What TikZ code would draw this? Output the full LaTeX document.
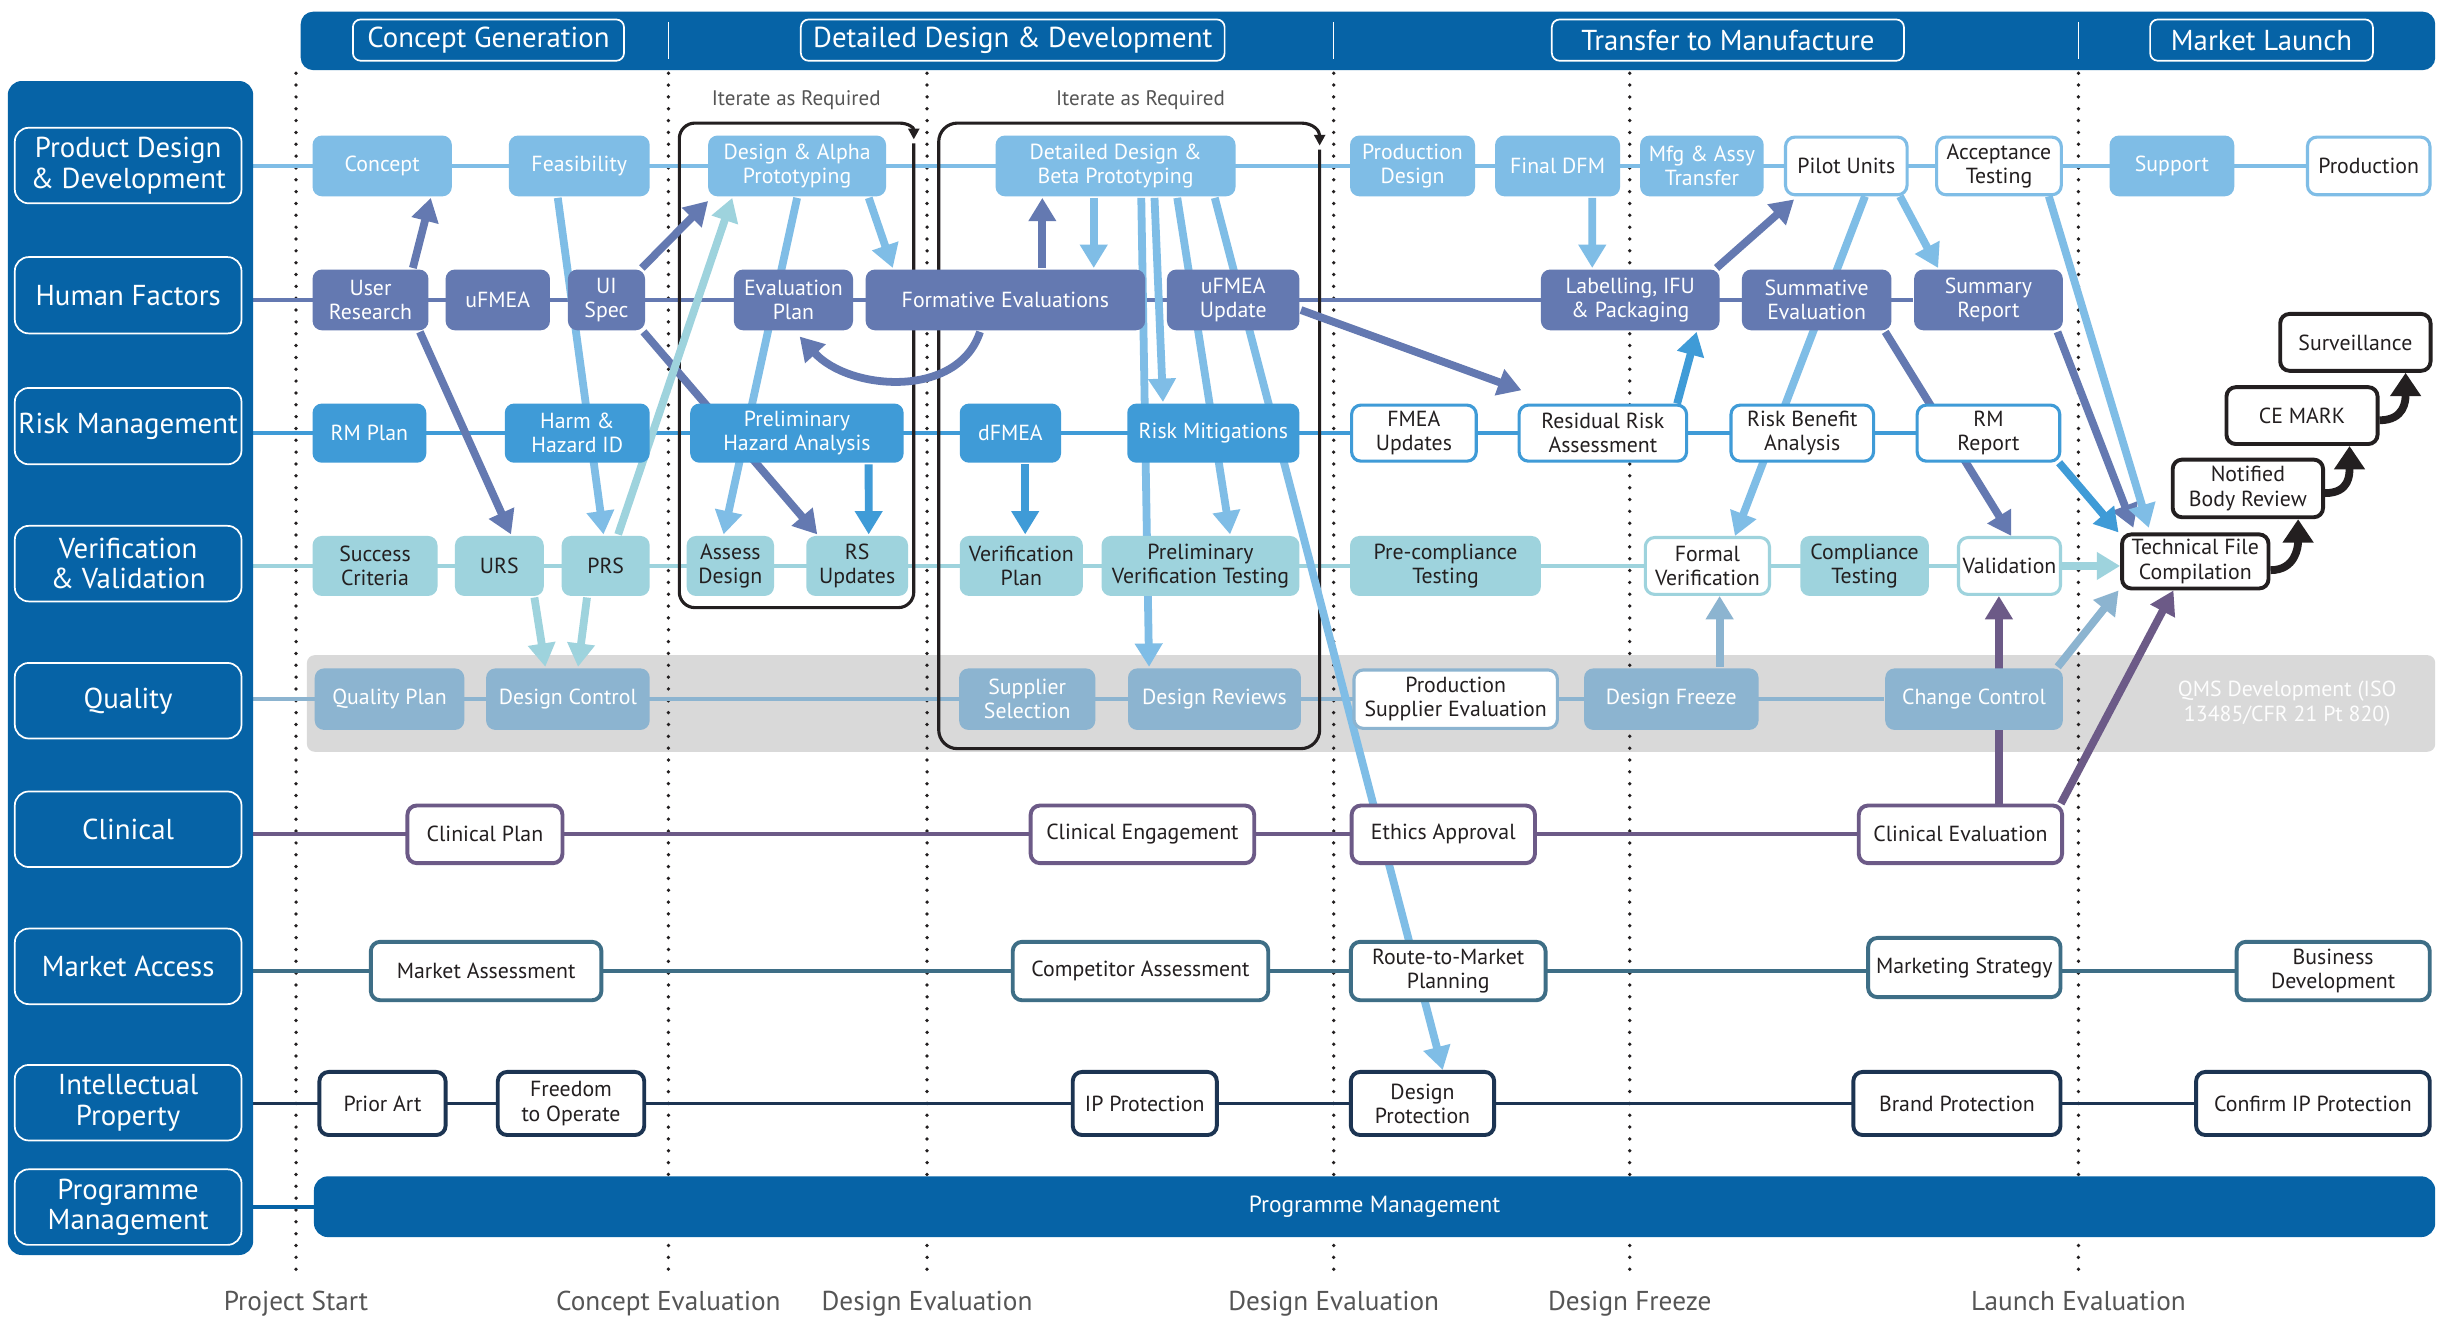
\documentclass[tikz,border=0pt]{standalone}
\usepackage{fontspec}
\setmainfont{PT Sans}
\usetikzlibrary{arrows.meta,calc}

\definecolor{hdrblue}{RGB}{6,99,166}
\definecolor{pdc}{RGB}{127,189,230}
\definecolor{hfc}{RGB}{100,121,177}
\definecolor{rmc}{RGB}{63,155,215}
\definecolor{vvc}{RGB}{158,211,221}
\definecolor{qc}{RGB}{140,180,208}
\definecolor{clc}{RGB}{108,90,135}
\definecolor{mac}{RGB}{62,110,134}
\definecolor{ipc}{RGB}{28,52,82}
\definecolor{bandc}{RGB}{217,217,217}
\definecolor{inkc}{RGB}{35,31,32}
\definecolor{milec}{RGB}{85,85,85}

\pgfdeclarelayer{back}
\pgfdeclarelayer{lanes}
\pgfdeclarelayer{links}
\pgfsetlayers{back,lanes,links,main}

% box given by its left, right, top and bottom edges
\newcommand\mkbox[7]{\node[#1, minimum width={#4pt-#3pt}, minimum height={#6pt-#5pt}] (#2) at ({(#3+#4)/2},{(#5+#6)/2}) {#7};}

\tikzset{
  box/.style={rounded corners=6pt, align=center, inner sep=0pt, font=\fontsize{14}{15.5}\selectfont, line width=2pt},
  pdn/.style={box, fill=pdc, text=white},
  pdw/.style={box, draw=pdc, fill=white, text=inkc},
  hfn/.style={box, fill=hfc, text=white},
  rmn/.style={box, fill=rmc, text=white},
  rmw/.style={box, draw=rmc, fill=white, text=inkc},
  vvn/.style={box, fill=vvc, text=inkc},
  vvw/.style={box, draw=vvc, fill=white, text=inkc},
  qn/.style={box, fill=qc, text=white},
  qw/.style={box, draw=qc, fill=white, text=inkc},
  cln/.style={box, draw=clc, fill=white, text=inkc, line width=2.5pt},
  man/.style={box, draw=mac, fill=white, text=inkc, line width=2.5pt},
  ipn/.style={box, draw=ipc, fill=white, text=inkc, line width=2.5pt},
  regn/.style={box, draw=inkc, fill=white, text=inkc, line width=2.5pt},
  hdrbar/.style={fill=hdrblue, rounded corners=8pt, inner sep=0pt},
  panelbox/.style={fill=hdrblue, rounded corners=9pt, inner sep=0pt},
  lanelbl/.style={draw=white, line width=1.1pt, rounded corners=9pt, text=white, align=center, inner sep=0pt, font=\fontsize{18.5}{19.5}\selectfont},
  phasebox/.style={draw=white, line width=1.1pt, rounded corners=5pt, text=white, inner sep=0pt, font=\fontsize{18.5}{20}\selectfont},
  pmbarbox/.style={fill=hdrblue, rounded corners=9pt, text=white, inner sep=0pt, font=\fontsize{15}{16}\selectfont},
  bandbox/.style={fill=bandc, rounded corners=5pt, inner sep=0pt},
  qmstxt/.style={text=white!95!bandc, align=center, inner sep=0pt, font=\fontsize{14}{16}\selectfont},
  laneln/.style={line width=2.5pt},
  milestone/.style={line width=2.4pt, dash pattern=on 0pt off 7.6pt, line cap=round, draw=inkc},
  milelbl/.style={text=milec, font=\fontsize{17.5}{18}\selectfont, anchor=base, inner sep=0pt},
  iterlbl/.style={text=milec, font=\fontsize{13.5}{14}\selectfont, inner sep=0pt},
  iterbox/.style={draw=inkc, line width=2pt},
  link/.style={line width=5pt, -{Triangle[length=15pt,width=17pt]}},
  reglink/.style={line width=5pt, draw=inkc, -{Triangle[length=15pt,width=19pt]}},
}

\begin{document}
\begin{tikzpicture}[x=1pt,y=-1pt]
\useasboundingbox (0,0) rectangle (1568,845);

% ---------- background: page, quality band, milestones ----------
\begin{pgfonlayer}{back}
  \fill[white] (0,0) rectangle (1568,845);
  \mkbox{bandbox}{qband}{197}{1563}{420.5}{482.5}{}
  \foreach \mx/\lbl [count=\i] in {190/Project Start, 429/Concept Evaluation, 595/Design Evaluation, 856/Design Evaluation, 1046/Design Freeze, 1334/Launch Evaluation}{
    \coordinate (mtop\i) at (\mx,47);
    \coordinate (mbot\i) at (\mx,820);
    \draw[milestone] (mtop\i) -- (mbot\i);
    \node[milelbl] (mlbl\i) at (\mx,841) {\lbl};
  }
\end{pgfonlayer}

% ---------- header with phases ----------
\mkbox{hdrbar}{header}{193}{1563}{7.5}{45}{}
\mkbox{phasebox}{phCG}{226.5}{400.5}{12.5}{39}{Concept Generation}
\mkbox{phasebox}{phDD}{514}{786}{12.5}{39}{Detailed Design \& Development}
\mkbox{phasebox}{phTM}{996}{1222}{12.5}{39}{Transfer to Manufacture}
\mkbox{phasebox}{phML}{1380}{1523}{12.5}{39}{Market Launch}
\foreach \sx in {429,856,1334}{\draw[white, line width=1pt] (\sx,14) -- (\sx,38);}

% ---------- swim lane titles ----------
\mkbox{panelbox}{panel}{5}{162.5}{52}{805.5}{}
\mkbox{lanelbl}{lPD}{9.5}{155}{82}{130.5}{Product Design\\\& Development}
\mkbox{lanelbl}{lHF}{9.5}{155}{165}{214}{Human Factors}
\mkbox{lanelbl}{lRM}{9.5}{155}{249}{298}{Risk Management}
\mkbox{lanelbl}{lVV}{9.5}{155}{337.5}{386}{Verification\\\& Validation}
\mkbox{lanelbl}{lQ}{9.5}{155}{425.5}{474}{Quality}
\mkbox{lanelbl}{lCl}{9.5}{155}{508}{556.5}{Clinical}
\mkbox{lanelbl}{lMA}{9.5}{155}{596}{644.5}{Market Access}
\mkbox{lanelbl}{lIP}{9.5}{155}{683.5}{732}{Intellectual\\Property}
\mkbox{lanelbl}{lPM}{9.5}{155}{750.5}{799}{Programme\\Management}

\node[qmstxt] (qms) at (1468,451.5) {QMS Development (ISO\\13485/CFR 21 Pt 820)};
\mkbox{pmbarbox}{pmbar}{201.5}{1563}{755}{794}{Programme Management}

\node[iterlbl] (it1) at (511,64) {Iterate as Required};
\node[iterlbl] (it2) at (732,64) {Iterate as Required};

% ---------- Product Design & Development ----------
\mkbox{pdn}{concept}{200.6}{290}{87}{126}{Concept}
\mkbox{pdn}{feas}{326.6}{417}{87}{126}{Feasibility}
\mkbox{pdn}{dap}{454.5}{568.7}{87}{126}{Design \& Alpha\\Prototyping}
\mkbox{pdn}{ddb}{639}{793}{87}{126}{Detailed Design \&\\Beta Prototyping}
\mkbox{pdn}{pdes}{866.5}{946.7}{87}{126}{Production\\Design}
\mkbox{pdn}{fdfm}{959.6}{1039.8}{87}{126}{Final DFM}
\mkbox{pdn}{mfg}{1052.7}{1132}{87}{126}{Mfg \& Assy\\Transfer}
\mkbox{pdw}{pilot}{1146}{1224}{88}{125}{Pilot Units}
\mkbox{pdw}{accept}{1243}{1323}{88}{125}{Acceptance\\Testing}
\mkbox{pdn}{support}{1354}{1434}{87}{126}{Support}
\mkbox{pdw}{prod}{1481}{1559.6}{88}{125}{Production}

% ---------- Human Factors ----------
\mkbox{hfn}{ur}{200.6}{275}{173}{212}{User\\Research}
\mkbox{hfn}{ufmea}{286}{353}{173}{212}{uFMEA}
\mkbox{hfn}{uispec}{364.5}{414}{173}{212}{UI\\Spec}
\mkbox{hfn}{evalplan}{471}{547.5}{173}{212}{Evaluation\\Plan}
\mkbox{hfn}{formative}{555.6}{735}{173}{212}{Formative Evaluations}
\mkbox{hfn}{ufmeaup}{749}{834}{173}{212}{uFMEA\\Update}
\mkbox{hfn}{label}{989}{1103.7}{173}{212}{Labelling, IFU\\\& Packaging}
\mkbox{hfn}{summ}{1118}{1214}{173}{212}{Summative\\Evaluation}
\mkbox{hfn}{sumrep}{1228.5}{1324}{173}{212}{Summary\\Report}

% ---------- Risk Management ----------
\mkbox{rmn}{rmplan}{200.6}{273.6}{259}{297}{RM Plan}
\mkbox{rmn}{harm}{324}{417}{259}{297}{Harm \&\\Hazard ID}
\mkbox{rmn}{pha}{443}{580}{259}{297}{Preliminary\\Hazard Analysis}
\mkbox{rmn}{dfmea}{616}{681}{259}{297}{dFMEA}
\mkbox{rmn}{riskmit}{723.5}{834}{259}{297}{Risk Mitigations}
\mkbox{rmw}{fmeaup}{867.5}{947.5}{260}{296}{FMEA\\Updates}
\mkbox{rmw}{rra}{975}{1082.5}{260}{296}{Residual Risk\\Assessment}
\mkbox{rmw}{rba}{1111}{1202.5}{260}{296}{Risk Benefit\\Analysis}
\mkbox{rmw}{rmrep}{1230.5}{1322}{260}{296}{RM\\Report}

% ---------- Verification & Validation ----------
\mkbox{vvn}{succ}{200.6}{280.8}{344}{382.5}{Success\\Criteria}
\mkbox{vvn}{urs}{292}{349}{344}{382.5}{URS}
\mkbox{vvn}{prs}{360.5}{417}{344}{382.5}{PRS}
\mkbox{vvn}{assess}{440.7}{496.8}{344}{382.5}{Assess\\Design}
\mkbox{vvn}{rsup}{517.5}{582.8}{344}{382.5}{RS\\Updates}
\mkbox{vvn}{verplan}{616}{695}{344}{382.5}{Verification\\Plan}
\mkbox{vvn}{pvt}{707}{834}{344}{382.5}{Preliminary\\Verification Testing}
\mkbox{vvn}{precomp}{866.5}{989}{344}{382.5}{Pre-compliance\\Testing}
\mkbox{vvw}{formal}{1056}{1135.7}{345}{381.5}{Formal\\Verification}
\mkbox{vvn}{comptest}{1155.5}{1238}{344}{382.5}{Compliance\\Testing}
\mkbox{vvw}{valid}{1257}{1322.5}{345}{381.5}{Validation}
\mkbox{regn}{tfc}{1362}{1456}{343}{377.7}{Technical File\\Compilation}

% ---------- Quality ----------
\mkbox{qn}{qplan}{202}{298}{429}{468.5}{Quality Plan}
\mkbox{qn}{dctrl}{312}{417}{429}{468.5}{Design Control}
\mkbox{qn}{supsel}{615.6}{703}{429}{468.5}{Supplier\\Selection}
\mkbox{qn}{drev}{724}{835}{429}{468.5}{Design Reviews}
\mkbox{qw}{pse}{869}{999.6}{430}{467.5}{Production\\Supplier Evaluation}
\mkbox{qn}{dfreeze}{1016.7}{1128.7}{429}{468.5}{Design Freeze}
\mkbox{qn}{chctrl}{1210}{1324}{429}{468.5}{Change Control}

% ---------- Clinical ----------
\mkbox{cln}{clplan}{261.5}{361}{517}{554}{Clinical Plan}
\mkbox{cln}{cleng}{661.5}{805}{517}{554}{Clinical Engagement}
\mkbox{cln}{ethics}{867.5}{985.2}{517}{554}{Ethics Approval}
\mkbox{cln}{cleval}{1193}{1323.5}{517}{554}{Clinical Evaluation}

% ---------- Market Access ----------
\mkbox{man}{mkass}{238}{386}{604.5}{642}{Market Assessment}
\mkbox{man}{compass}{650}{814}{604.5}{642}{Competitor Assessment}
\mkbox{man}{rtm}{867}{992}{604.5}{642}{Route-to-Market\\Planning}
\mkbox{man}{mkstrat}{1199}{1322.5}{602}{640}{Marketing Strategy}
\mkbox{man}{busdev}{1435.5}{1559.5}{604.5}{642}{Business\\Development}

% ---------- Intellectual Property ----------
\mkbox{ipn}{prior}{205}{286}{688}{728.5}{Prior Art}
\mkbox{ipn}{fto}{319.5}{413.5}{688}{728.5}{Freedom\\to Operate}
\mkbox{ipn}{ipprot}{688.5}{781}{688}{728.5}{IP Protection}
\mkbox{ipn}{dprot}{867}{959}{688}{728.5}{Design\\Protection}
\mkbox{ipn}{brand}{1189.5}{1322.5}{688}{728.5}{Brand Protection}
\mkbox{ipn}{confirm}{1409.5}{1559.5}{688}{728.5}{Confirm IP Protection}

% ---------- regulatory route ----------
\mkbox{regn}{surv}{1463.5}{1560}{201.5}{238}{Surveillance}
\mkbox{regn}{cemark}{1429}{1526}{248.5}{285}{CE MARK}
\mkbox{regn}{nbr}{1394.5}{1491}{295}{332}{Notified\\Body Review}

% ---------- lane lines and iteration loops ----------
\begin{pgfonlayer}{lanes}
  \draw[laneln, pdc] (panel.east |- concept.west) -- (prod.west);
  \draw[laneln, hfc] (panel.east |- ur.west) -- (sumrep.west);
  \draw[laneln, rmc] (panel.east |- rmplan.west) -- (rmrep.west);
  \draw[laneln, vvc] (panel.east |- succ.west) -- (valid.west);
  \draw[laneln, qc] (panel.east |- qplan.west) -- (chctrl.west);
  \draw[laneln, clc] (panel.east |- clplan.west) -- (cleval.west);
  \draw[laneln, mac] (panel.east |- mkass.west) -- (busdev.west);
  \draw[laneln, ipc] (panel.east |- prior.west) -- (confirm.west);
  \draw[laneln, hdrblue] (panel.east |- pmbar.west) -- (pmbar.west);

  \draw[iterbox, rounded corners=10pt] (586.5,92) -- (586.5,390) -- (436,390) -- (436,79) -- (577,79);
  \draw[iterbox, -{Triangle[length=7pt,width=7pt]}] (577,79) .. controls (583,79) and (586.5,82) .. (586.5,89.5);
  \draw[iterbox, rounded corners=12pt] (847,96) -- (847,480.5) -- (602.5,480.5) -- (602.5,79) -- (835,79);
  \draw[iterbox, -{Triangle[length=7pt,width=7pt]}] (835,79) .. controls (843,79) and (847,84) .. (847,93.5);
\end{pgfonlayer}

% ---------- connectors ----------
\begin{pgfonlayer}{links}
  \draw[link, hfc] ([xshift=27.2pt]ur.north) -- ([xshift=31.2pt]concept.south);
  \draw[link, hfc] ([xshift=31.7pt]ur.south) -- ([xshift=7.5pt]urs.north);
  \draw[link, pdc] ([xshift=-13.8pt]feas.south) -- ([xshift=-1.4pt]prs.north);
  \draw[link, hfc] ([xshift=-3pt]uispec.north east) -- ([xshift=1pt,yshift=-2pt]dap.south west);
  \draw[link, hfc] ([xshift=-2pt]uispec.south east) -- ([xshift=-25.6pt]rsup.north);
  \draw[link, vvc] ([xshift=8pt]prs.north) -- ([xshift=-41.6pt]dap.south);
  \draw[link, vvc] ([xshift=22.5pt]urs.south) -- ([xshift=-14.5pt]dctrl.north);
  \draw[link, vvc] ([xshift=-12pt]prs.south) -- ([xshift=6.5pt]dctrl.north);
  \draw[link, pdc] (dap.south) -- ([xshift=-4.3pt]assess.north);
  \draw[link, pdc] ([xshift=46pt]dap.south) -- ([xshift=-72.3pt]formative.north);
  \draw[link, rmc] ([xshift=46pt]pha.south) -- ([xshift=7.4pt]rsup.north);
  \draw[link, hfc] ([xshift=-16.3pt]formative.south) .. controls +(-14,43) and +(32,35) .. ([xshift=4pt,yshift=-3pt]evalplan.south);
  \draw[link, hfc] ([xshift=23.7pt]formative.north) -- ([xshift=-47pt]ddb.south);
  \draw[link, pdc] ([xshift=-14pt]ddb.south) -- ([xshift=56.7pt]formative.north);
  \draw[link, pdc] ([xshift=16.5pt]ddb.south) -- ([xshift=-42pt]drev.north);
  \draw[link, pdc] ([xshift=25pt]ddb.south) -- ([xshift=-32.3pt]riskmit.north);
  \draw[link, pdc] ([xshift=39.6pt]ddb.south) -- ([xshift=19pt]pvt.north);
  \draw[link, pdc] ([xshift=63.7pt]ddb.south) -- ([xshift=13pt]dprot.north);
  \draw[link, rmc] ([xshift=9.5pt]dfmea.south) -- ([xshift=2.5pt]verplan.north);
  \draw[link, hfc] ([yshift=-6.5pt]ufmeaup.east) -- ([xshift=2.5pt,yshift=8.5pt]rra.north west);
  \draw[link, pdc] ([xshift=22.3pt]fdfm.south) -- ([xshift=-24.4pt]label.north);
  \draw[link, hfc] ([xshift=-3pt]label.north east) -- ([xshift=6.5pt,yshift=-2pt]pilot.south west);
  \draw[link, rmc] ([xshift=47.7pt]rra.north) -- ([xshift=42.6pt]label.south);
  \draw[link, pdc] ([xshift=12pt]pilot.south) -- ([xshift=17.7pt]formal.north);
  \draw[link, pdc] ([xshift=34.5pt]pilot.south) -- ([xshift=-32.3pt]sumrep.north);
  \draw[link, hfc] ([xshift=44pt]summ.south) -- ([xshift=1.2pt]valid.north);
  \draw[link, hfc] ([xshift=44.3pt]sumrep.south) -- ([xshift=8.5pt,yshift=3pt]tfc.north west);
  \draw[link, pdc] ([xshift=32pt]accept.south) -- ([xshift=18.4pt,yshift=3pt]tfc.north west);
  \draw[link, rmc] ([xshift=-1.4pt]rmrep.south east) -- ([xshift=-1pt]tfc.north west);
  \draw[link, vvc] (valid.east) -- (valid.east -| tfc.west);
  \draw[link, qc] ([xshift=-4.3pt]chctrl.north east) -- ([xshift=-1pt]tfc.south west);
  \draw[link, clc] ([xshift=24.7pt]cleval.north) coordinate (cvup) -- (cvup |- valid.south);
  \draw[link, clc] ([xshift=-2pt]cleval.north east) -- ([xshift=-14pt]tfc.south);
  \draw[link, qc] ([xshift=31pt]dfreeze.north) coordinate (dfup) -- (dfup |- formal.south);
\end{pgfonlayer}

\draw[reglink] ([yshift=-5.6pt]tfc.east) .. controls +(16,0) and +(0,18) .. ([xshift=32.25pt]nbr.south);
\draw[reglink] ([yshift=-3pt]nbr.east) .. controls +(16,0) and +(0,18) .. ([xshift=30.5pt]cemark.south);
\draw[reglink] ([yshift=-3pt]cemark.east) .. controls +(16,0) and +(0,18) .. ([xshift=32.25pt]surv.south);
\end{tikzpicture}
\end{document}
